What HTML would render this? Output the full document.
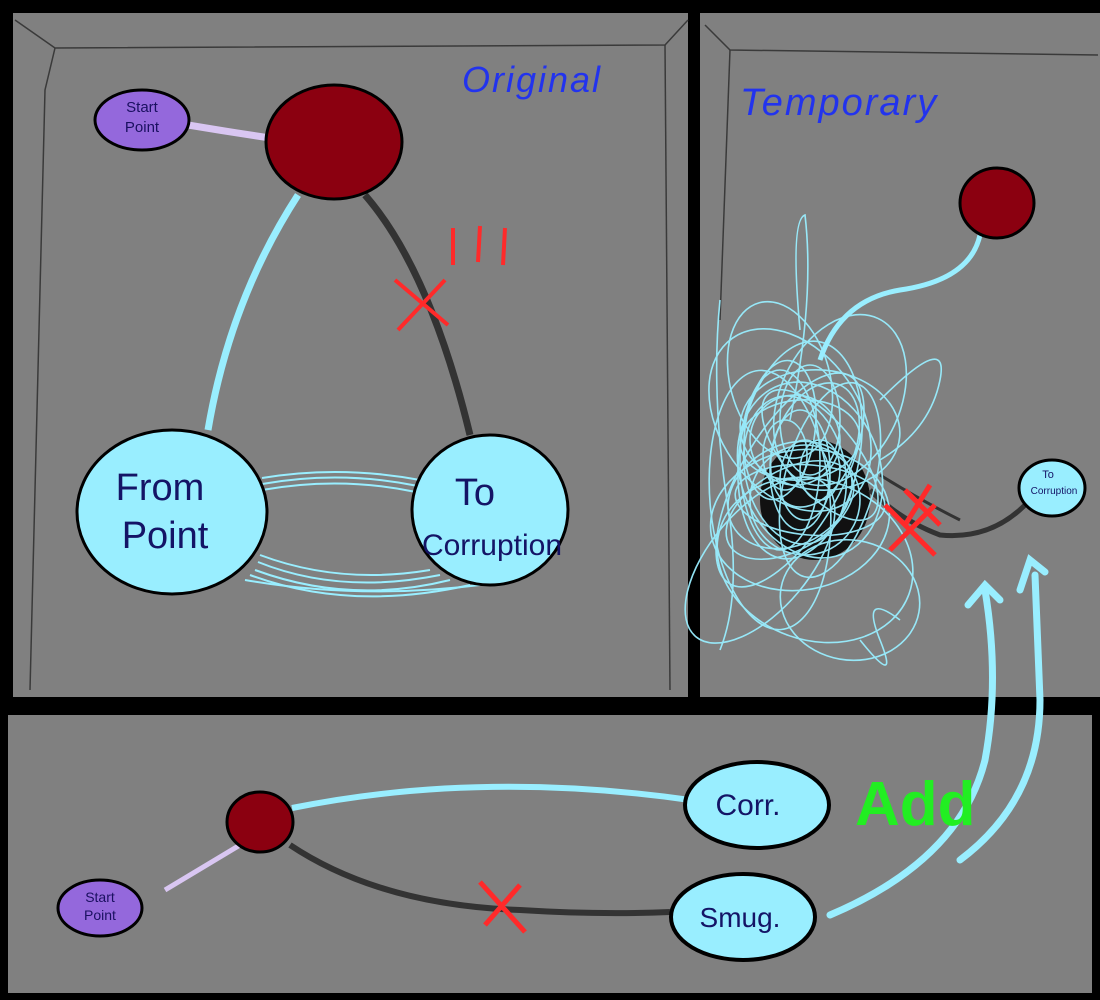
<!DOCTYPE html>
<html><head><meta charset="utf-8"><style>
html,body{margin:0;padding:0;background:#000;}
svg{display:block}
text{font-family:"Liberation Sans",sans-serif;}
</style></head><body>
<svg width="1100" height="1000" viewBox="0 0 1100 1000" xmlns="http://www.w3.org/2000/svg">
<rect width="1100" height="1000" fill="#000"/>
<rect x="13" y="13" width="675" height="684" fill="#808080"/>
<rect x="700" y="13" width="400" height="684" fill="#808080"/>
<rect x="8" y="715" width="1084" height="278" fill="#808080"/>
<g stroke="#3a3a3a" stroke-width="1.5" fill="none">
<path d="M15 20 L55 48 L665 45 L688 20"/>
<path d="M55 48 L45 90 L30 690"/>
<path d="M665 45 L670 690"/>
<path d="M705 25 L730 50 L1098 55"/>
<path d="M730 50 L720 320"/>
</g>
<text x="462" y="92" font-size="36" fill="#2233ee" font-style="italic" letter-spacing="2">Original</text>
<path d="M188 125 Q230 132 270 138" stroke="#d9c6f2" stroke-width="7" fill="none"/>
<ellipse cx="142" cy="120" rx="47" ry="30" fill="#9468dc" stroke="#000" stroke-width="3"/>
<text x="142" y="112" font-size="15" text-anchor="middle" fill="#1a1060">Start</text>
<text x="142" y="132" font-size="15" text-anchor="middle" fill="#1a1060">Point</text>
<path d="M298 195 Q230 300 208 430" stroke="#99eeff" stroke-width="7" fill="none"/>
<path d="M365 195 Q430 270 470 435" stroke="#333" stroke-width="7" fill="none"/>
<ellipse cx="334" cy="142" rx="68" ry="57" fill="#8b0010" stroke="#000" stroke-width="3"/>
<g stroke="#ff2a2a" stroke-width="4" fill="none">
<path d="M395 280 L448 325 M445 280 L398 330"/>
<path d="M453 228 L453 265 M480 226 L478 262 M505 228 L503 265"/>
</g>
<g stroke="#99eeff" stroke-width="2" fill="none">
<path d="M262 478 Q340 465 420 480"/><path d="M262 484 Q340 470 418 486"/><path d="M262 490 Q340 476 416 492"/>
<path d="M260 555 Q340 585 430 570"/><path d="M258 562 Q340 595 440 575"/><path d="M255 570 Q350 605 450 580"/><path d="M250 575 Q350 612 470 585"/><path d="M245 580 Q360 600 480 585"/>
</g>
<ellipse cx="172" cy="512" rx="95" ry="82" fill="#99eeff" stroke="#000" stroke-width="3"/>
<text x="160" y="500" font-size="38" text-anchor="middle" fill="#141466">From</text>
<text x="165" y="548" font-size="38" text-anchor="middle" fill="#141466">Point</text>
<ellipse cx="490" cy="510" rx="78" ry="75" fill="#99eeff" stroke="#000" stroke-width="3"/>
<text x="475" y="505" font-size="38" text-anchor="middle" fill="#141466">To</text>
<text x="492" y="555" font-size="30" text-anchor="middle" fill="#141466">Corruption</text>
<text x="740" y="115" font-size="38" fill="#2233ee" font-style="italic" letter-spacing="2">Temporary</text>
<path d="M980 235 Q970 280 900 290 Q840 300 820 360" stroke="#99eeff" stroke-width="5" fill="none"/>
<ellipse cx="997" cy="203" rx="37" ry="35" fill="#8b0010" stroke="#000" stroke-width="3"/>
<ellipse cx="815" cy="500" rx="55" ry="60" fill="#111"/>
<path d="M870 490 Q900 520 940 535 Q990 540 1025 505" stroke="#333" stroke-width="5" fill="none"/>
<path d="M880 475 Q920 500 960 520" stroke="#333" stroke-width="3" fill="none"/>
<g stroke="#99eeff" stroke-width="1.6" fill="none" opacity="0.95">
<ellipse cx="800" cy="450" rx="60" ry="110" transform="rotate(10 800 450)"/>
<ellipse cx="810" cy="470" rx="70" ry="90" transform="rotate(-20 810 470)"/>
<ellipse cx="790" cy="480" rx="50" ry="120" transform="rotate(30 790 480)"/>
<ellipse cx="820" cy="430" rx="80" ry="60" transform="rotate(5 820 430)"/>
<ellipse cx="800" cy="520" rx="90" ry="70" transform="rotate(-10 800 520)"/>
<ellipse cx="780" cy="460" rx="40" ry="90"/>
<ellipse cx="830" cy="480" rx="45" ry="100" transform="rotate(15 830 480)"/>
<ellipse cx="790" cy="420" rx="70" ry="100" transform="rotate(-35 790 420)"/>
<ellipse cx="805" cy="500" rx="55" ry="55"/>
<ellipse cx="815" cy="560" rx="100" ry="80" transform="rotate(20 815 560)"/>
<ellipse cx="770" cy="500" rx="60" ry="130" transform="rotate(-5 770 500)"/>
<ellipse cx="840" cy="400" rx="60" ry="90" transform="rotate(25 840 400)"/>
<ellipse cx="800" cy="470" rx="30" ry="60"/>
<ellipse cx="795" cy="440" rx="45" ry="45"/>
<ellipse cx="820" cy="455" rx="35" ry="80" transform="rotate(-40 820 455)"/>
<ellipse cx="760" cy="560" rx="50" ry="100" transform="rotate(40 760 560)"/>
<ellipse cx="850" cy="600" rx="70" ry="60" transform="rotate(10 850 600)"/>
<ellipse cx="780" cy="380" rx="50" ry="80" transform="rotate(-15 780 380)"/>
<ellipse cx="805" cy="480" rx="25" ry="40"/>
<ellipse cx="790" cy="510" rx="40" ry="70" transform="rotate(60 790 510)"/>
<path d="M800 330 Q790 220 805 215 Q815 300 790 420"/>
<path d="M880 400 Q950 330 940 380 Q930 430 880 460"/>
<path d="M720 300 Q710 400 730 520 Q740 600 720 650"/>
<path d="M860 640 Q900 690 880 640 Q860 590 900 620"/>
<ellipse cx="820" cy="470" rx="20" ry="30"/><ellipse cx="785" cy="455" rx="22" ry="35"/>
<ellipse cx="800" cy="440" rx="60" ry="40" transform="rotate(-5 800 440)"/>
<ellipse cx="810" cy="500" rx="75" ry="35" transform="rotate(5 810 500)"/>
<ellipse cx="795" cy="470" rx="50" ry="75" transform="rotate(-12 795 470)"/>
<ellipse cx="815" cy="445" rx="40" ry="65" transform="rotate(22 815 445)"/>
<ellipse cx="790" cy="495" rx="65" ry="50" transform="rotate(-28 790 495)"/>
<ellipse cx="810" cy="420" rx="30" ry="55"/>
<ellipse cx="780" cy="430" rx="35" ry="70" transform="rotate(8 780 430)"/>
</g>
<g stroke="#ff2a2a" stroke-width="5" fill="none">
<path d="M885 505 L935 555 M935 505 L890 550"/><path d="M905 490 L940 525 M930 485 L905 525"/>
</g>
<ellipse cx="1052" cy="488" rx="33" ry="28" fill="#99eeff" stroke="#000" stroke-width="3"/>
<text x="1048" y="478" font-size="11" text-anchor="middle" fill="#141466">To</text>
<text x="1054" y="494" font-size="10" text-anchor="middle" fill="#141466">Corruption</text>
<g stroke="#99eeff" stroke-width="7" fill="none" stroke-linecap="round">
<path d="M830 915 Q960 860 985 760 Q1000 680 985 590"/>
<path d="M968 605 L985 585 L1000 600"/>
<path d="M960 860 Q1040 800 1040 700 L1035 575"/>
<path d="M1020 590 L1030 560 L1045 572"/>
</g>
<path d="M292 808 Q480 770 690 800" stroke="#99eeff" stroke-width="6" fill="none"/>
<path d="M290 845 Q380 905 520 910 Q600 915 670 912" stroke="#333" stroke-width="6" fill="none"/>
<path d="M165 890 Q215 860 240 845" stroke="#d9c6f2" stroke-width="5" fill="none"/>
<ellipse cx="260" cy="822" rx="33" ry="30" fill="#8b0010" stroke="#000" stroke-width="3"/>
<path d="M480 882 L525 932 M520 885 L485 925" stroke="#ff2a2a" stroke-width="5"/>
<ellipse cx="100" cy="908" rx="42" ry="28" fill="#9468dc" stroke="#000" stroke-width="3"/>
<text x="100" y="902" font-size="14" text-anchor="middle" fill="#1a1060">Start</text>
<text x="100" y="920" font-size="14" text-anchor="middle" fill="#1a1060">Point</text>
<ellipse cx="757" cy="805" rx="72" ry="43" fill="#99eeff" stroke="#000" stroke-width="4"/>
<text x="748" y="815" font-size="30" text-anchor="middle" fill="#141466">Corr.</text>
<ellipse cx="743" cy="917" rx="72" ry="43" fill="#99eeff" stroke="#000" stroke-width="4"/>
<text x="740" y="927" font-size="28" text-anchor="middle" fill="#141466">Smug.</text>
<text x="855" y="825" font-size="62" font-weight="bold" fill="#22ee22">Add</text>
</svg>
</body></html>
